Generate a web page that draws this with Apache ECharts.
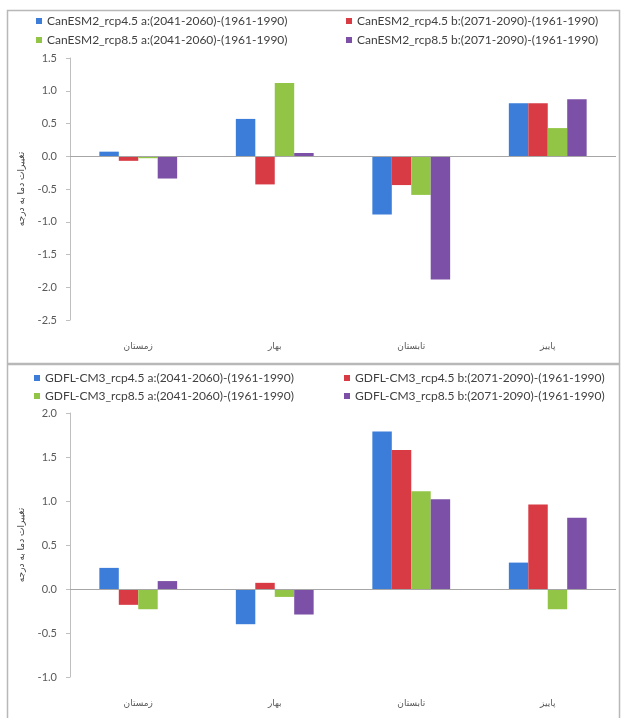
<!DOCTYPE html>
<html>
<head>
<meta charset="utf-8">
<script src="https://cdn.jsdelivr.net/npm/echarts@6/dist/echarts.min.js"></script>
<style>
  html, body { margin: 0; padding: 0; background: #ffffff; }
  #chart { width: 621px; height: 718px; }
</style>
</head>
<body>
<div id="chart"></div>
<script>
// Seasons on the category axis (left to right)
const seasons = ['زمستان', 'بهار', 'تابستان', 'پاییز'];

// Series names for the two models
const canNames = [
  'CanESM2_rcp4.5 a:(2041-2060)-(1961-1990)',
  'CanESM2_rcp4.5 b:(2071-2090)-(1961-1990)',
  'CanESM2_rcp8.5 a:(2041-2060)-(1961-1990)',
  'CanESM2_rcp8.5 b:(2071-2090)-(1961-1990)'
];
const gfdlNames = [
  'GDFL-CM3_rcp4.5 a:(2041-2060)-(1961-1990)',
  'GDFL-CM3_rcp4.5 b:(2071-2090)-(1961-1990)',
  'GDFL-CM3_rcp8.5 a:(2041-2060)-(1961-1990)',
  'GDFL-CM3_rcp8.5 b:(2071-2090)-(1961-1990)'
];

// CanESM2 temperature change per season
const canRcp45a = [0.07, 0.57, -0.89, 0.81];
const canRcp45b = [-0.07, -0.43, -0.44, 0.81];
const canRcp85a = [-0.03, 1.12, -0.59, 0.43];
const canRcp85b = [-0.34, 0.05, -1.88, 0.87];

// GDFL-CM3 temperature change per season
const gfdlRcp45a = [0.24, -0.40, 1.79, 0.30];
const gfdlRcp45b = [-0.18, 0.07, 1.58, 0.96];
const gfdlRcp85a = [-0.23, -0.09, 1.11, -0.23];
const gfdlRcp85b = [0.09, -0.29, 1.02, 0.81];

// Value axis ranges
const topAxis = { min: -2.5, max: 1.5, interval: 0.5 };
const bottomAxis = { min: -1.0, max: 2.0, interval: 0.5 };

const yTitle = 'تغییرات دما به درجه';

const colors = ['#3b7dd8', '#d83b44', '#92c545', '#7b50a6'];
const textFont = 'Lato, "Open Sans", sans-serif';
const faFont = '"DejaVu Sans", "Noto Sans", sans-serif';

const chart = echarts.init(document.getElementById('chart'), null, { renderer: 'canvas' });

function makeSeries(names, values, gridIdx) {
  return names.map((name, i) => {
    const s = {
      name: name,
      type: 'bar',
      xAxisIndex: gridIdx,
      yAxisIndex: gridIdx,
      data: values[i],
      barGap: '0%',
      barCategoryGap: '43%',
      itemStyle: { color: colors[i] },
      emphasis: { disabled: true }
    };
    if (i === 0) {
      s.markLine = {
        silent: true,
        symbol: ['none', 'none'],
        label: { show: false },
        lineStyle: { color: '#a6a6a6', width: 1, type: 'solid' },
        data: [{ yAxis: 0 }]
      };
    }
    return s;
  });
}

function makeLegends(names, lefts, tops) {
  return names.map((name, i) => ({
    data: [name],
    left: lefts[i % 2],
    top: tops[Math.floor(i / 2)],
    padding: 0,
    icon: 'rect',
    itemWidth: 6,
    itemHeight: 6,
    selectedMode: false,
    textStyle: { fontSize: 12, color: '#404040', fontFamily: textFont }
  }));
}

function makeXAxis(gridIdx) {
  return {
    type: 'category',
    gridIndex: gridIdx,
    data: seasons,
    axisLine: { show: false, onZero: false },
    axisTick: { show: false },
    axisLabel: { margin: 22, fontSize: 9, color: '#595959', fontFamily: faFont },
    splitLine: { show: false }
  };
}

function makeYAxis(gridIdx, range) {
  return {
    type: 'value',
    gridIndex: gridIdx,
    min: range.min,
    max: range.max,
    interval: range.interval,
    name: yTitle,
    nameLocation: 'middle',
    nameRotate: 90,
    nameGap: 44,
    nameTextStyle: { fontSize: 9, color: '#404040', fontFamily: faFont },
    axisLine: { show: true, lineStyle: { color: '#bfbfbf', width: 1 } },
    axisTick: { show: true, length: 4, lineStyle: { color: '#bfbfbf' } },
    axisLabel: {
      margin: 13,
      fontSize: 11,
      color: '#595959',
      fontFamily: textFont,
      formatter: v => v.toFixed(1)
    },
    splitLine: { show: false }
  };
}

const option = {
  backgroundColor: '#ffffff',
  animation: false,
  grid: [
    { left: 70, top: 58, width: 546, height: 262 },
    { left: 70, top: 413, width: 546, height: 264 }
  ],
  legend: [
    ...makeLegends(canNames, [36, 346], [15, 34]),
    ...makeLegends(gfdlNames, [34, 344], [372, 390])
  ],
  xAxis: [makeXAxis(0), makeXAxis(1)],
  yAxis: [makeYAxis(0, topAxis), makeYAxis(1, bottomAxis)],
  series: [
    ...makeSeries(canNames, [canRcp45a, canRcp45b, canRcp85a, canRcp85b], 0),
    ...makeSeries(gfdlNames, [gfdlRcp45a, gfdlRcp45b, gfdlRcp85a, gfdlRcp85b], 1)
  ],
  graphic: [
    {
      type: 'rect',
      silent: true,
      shape: { x: 7.5, y: 10.5, width: 612, height: 353 },
      style: { fill: 'none', stroke: '#b8b8b8', lineWidth: 1.5 }
    },
    {
      type: 'rect',
      silent: true,
      shape: { x: 7.5, y: 364.5, width: 612, height: 360 },
      style: { fill: 'none', stroke: '#b8b8b8', lineWidth: 1.5 }
    }
  ]
};

chart.setOption(option);
</script>
</body>
</html>
